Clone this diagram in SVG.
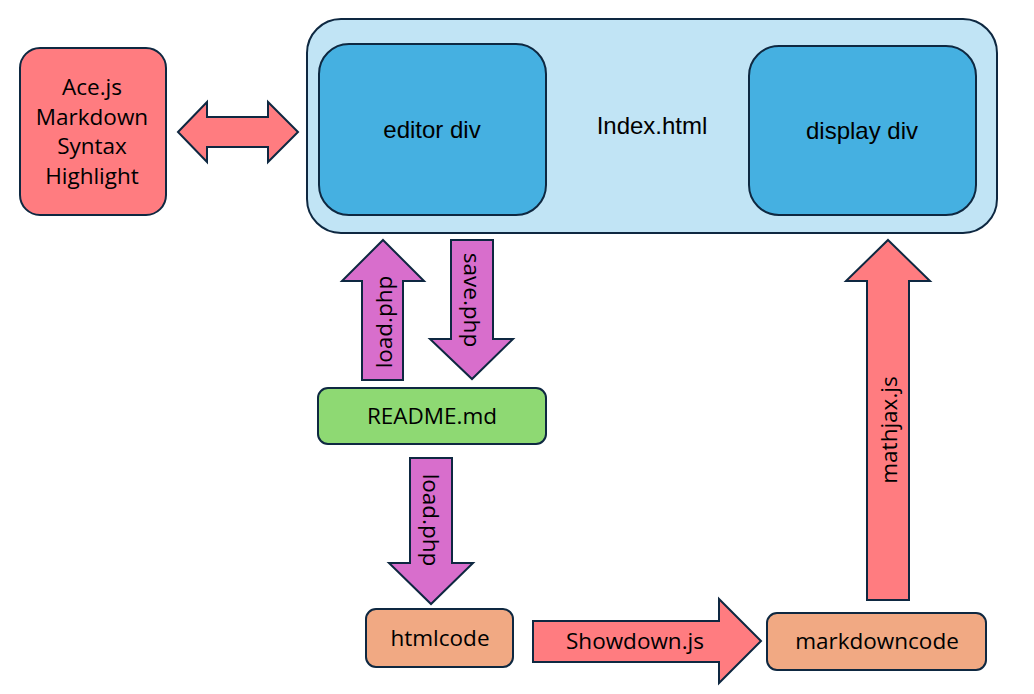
<svg xmlns="http://www.w3.org/2000/svg" width="1034" height="694" viewBox="0 0 1034 694">
<style>
  .s { stroke: #0E2841; stroke-width: 2; stroke-linejoin: miter; }
  .red { fill: #FF7C80; }
  .pur { fill: #D86ECC; }
  .grn { fill: #8ED973; }
  .org { fill: #F1A983; }
  .lb { fill: #C1E4F5; }
  .bl { fill: #45B0E1; }
  text { font-family: "Open Sans", "Liberation Sans", sans-serif; font-size: 22.5px; fill: #000; text-anchor: middle; dominant-baseline: central; }
  .n { font-family: "Liberation Sans", "Open Sans", sans-serif; font-size: 24px; }
</style>
<rect width="1034" height="694" fill="#fff"/>
<g id="index">
  <rect class="s lb" x="307" y="19" width="690" height="214" rx="34"/>
  <text class="n" x="652" y="125">Index.html</text>
</g>
<g id="editor">
  <rect class="s bl" x="319" y="44" width="227" height="171" rx="30"/>
  <text class="n" x="432" y="129">editor div</text>
</g>
<g id="display">
  <rect class="s bl" x="749" y="46" width="227" height="169" rx="30"/>
  <text class="n" x="862" y="130">display div</text>
</g>
<g id="ace">
  <rect class="s red" x="20" y="48" width="146" height="167" rx="20"/>
  <text x="92" y="86">Ace.js</text>
  <text x="92" y="116">Markdown</text>
  <text x="92" y="145">Syntax</text>
  <text x="92" y="175">Highlight</text>
</g>
<g id="readme">
  <rect class="s grn" x="318" y="388" width="228" height="56" rx="10"/>
  <text x="432" y="415">README.md</text>
</g>
<g id="htmlcode">
  <rect class="s org" x="366" y="609" width="147" height="58" rx="10"/>
  <text x="440" y="637">htmlcode</text>
</g>
<g id="markdowncode">
  <rect class="s org" x="767" y="613" width="219" height="57" rx="10"/>
  <text x="877" y="640">markdowncode</text>
</g>
<g id="connectors">
  <polygon class="s red" points="178,132 207,102 207,117 268,117 268,102 298,132 268,162 268,147 207,147 207,162"/>
  <polygon class="s pur" points="383,240 424,281 403,281 403,380 362,380 362,281 342,281"/>
  <text transform="translate(383,322) rotate(-90)">load.php</text>
  <polygon class="s pur" points="451,240 493,240 493,339 513,339 472,379 430,339 451,339"/>
  <text transform="translate(472,300) rotate(90)">save.php</text>
  <polygon class="s pur" points="410,458 452,458 452,563 473,563 431,604 389,563 410,563"/>
  <text transform="translate(431,520) rotate(90)">load.php</text>
  <polygon class="s red" points="533,621 719,621 719,599 761,641 719,683 719,662 533,662"/>
  <text x="635" y="640">Showdown.js</text>
  <polygon class="s red" points="888,240 930,281 909,281 909,600 867,600 867,281 846,281"/>
  <text transform="translate(888,430) rotate(-90)">mathjax.js</text>
</g>
</svg>
